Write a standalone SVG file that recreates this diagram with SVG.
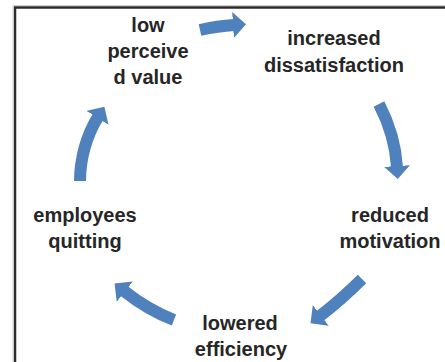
<svg xmlns="http://www.w3.org/2000/svg" width="445" height="362" viewBox="0 0 445 362">
<style>
.lbl{font-family:"Liberation Sans",Arial,sans-serif;font-size:20px;font-weight:bold;fill:#262626;text-anchor:middle}
.arr{fill:none;stroke:#4f81bd;stroke-width:12;stroke-linecap:butt}
</style>
<defs>
<marker id="head" markerUnits="userSpaceOnUse" markerWidth="14" markerHeight="26" viewBox="0 0 14 26" refX="1" refY="13" orient="auto">
<path d="M0,0 L13,13 L0,26 Z" fill="#4f81bd"/>
</marker>
</defs>
<rect x="15" y="7.5" width="520" height="420" fill="#ffffff" stroke="#2b2b2b" stroke-width="2.5"/>
<rect x="13" y="5.5" width="524" height="424" fill="none" stroke="#d0d0d0" stroke-width="1"/>
<g id="connectors">
<path class="arr" d="M200,30 Q218,26 234,25" marker-end="url(#head)"/>
<path class="arr" d="M379,104 Q395,135 397,167" marker-end="url(#head)"/>
<path class="arr" d="M80,181 C80,160 86,136 98,117" marker-end="url(#head)"/>
<path class="arr" d="M174,320 Q148,310 124,291" marker-end="url(#head)"/>
<path class="arr" d="M362,279 Q342,299 320,316" marker-end="url(#head)"/>
</g>
<g id="low-perceived-value">
<text class="lbl" x="148" y="32">low</text>
<text class="lbl" x="148" y="58">perceive</text>
<text class="lbl" x="148" y="84">d value</text>
</g>
<g id="increased-dissatisfaction">
<text class="lbl" x="334" y="45">increased</text>
<text class="lbl" x="334" y="72">dissatisfaction</text>
</g>
<g id="reduced-motivation">
<text class="lbl" x="390" y="222">reduced</text>
<text class="lbl" x="390" y="248">motivation</text>
</g>
<g id="lowered-efficiency">
<text class="lbl" x="240" y="330">lowered</text>
<text class="lbl" x="241" y="356">efficiency</text>
</g>
<g id="employees-quitting">
<text class="lbl" x="85" y="222">employees</text>
<text class="lbl" x="85" y="248">quitting</text>
</g>
</svg>
